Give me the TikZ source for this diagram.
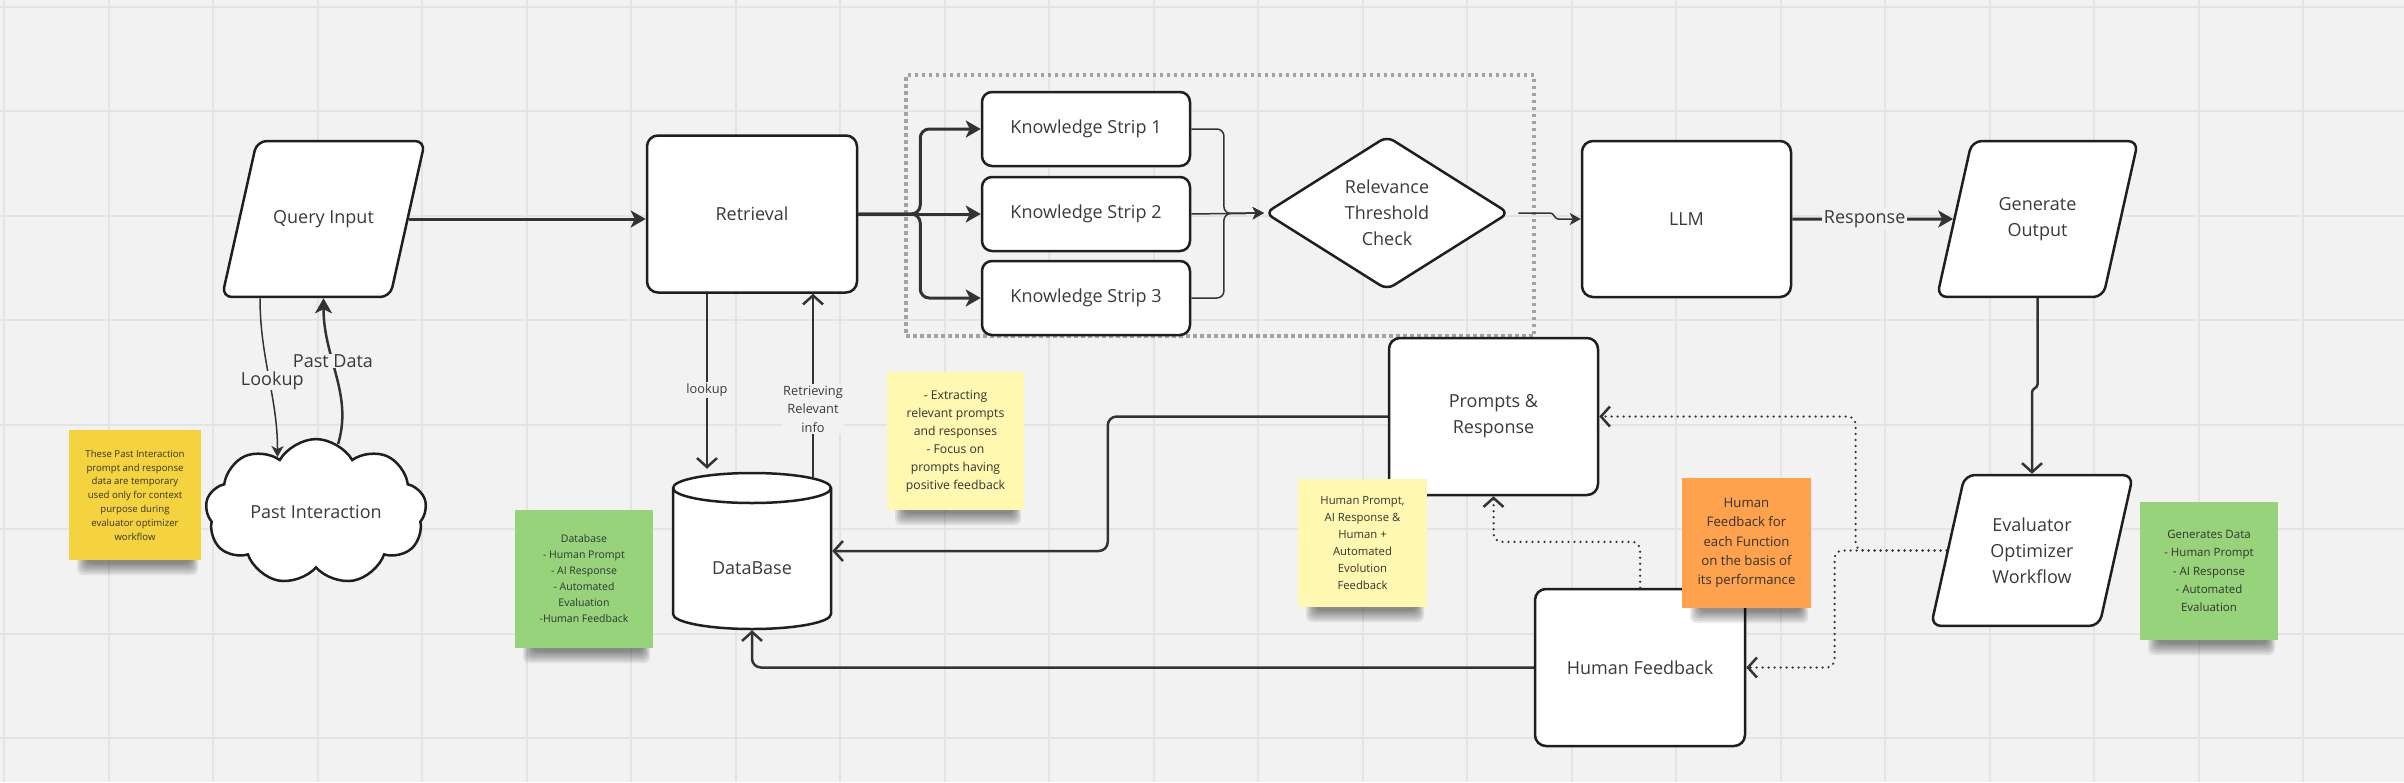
\documentclass[tikz,border=0pt]{standalone}
\usepackage{fontspec}
\setmainfont{Open Sans}
\usetikzlibrary{shapes.geometric,shapes.symbols,arrows.meta,calc}
\definecolor{bg}{HTML}{F2F2F2}
\definecolor{gridc}{HTML}{E4E4E4}
\definecolor{ink}{HTML}{1F1F1F}
\definecolor{lnk}{HTML}{333333}
\definecolor{txt}{HTML}{3A3A3A}
\definecolor{dotbox}{HTML}{A2A2A2}
\definecolor{stY}{HTML}{F5D33F}
\definecolor{stL}{HTML}{FFF8B0}
\definecolor{stG}{HTML}{97D37A}
\definecolor{stO}{HTML}{FFA24E}
\newcommand{\stickyshadow}[3]{%
  \foreach \k in {0,...,5} \fill[black, opacity=0.085, rounded corners=6pt] ({#1+8+\k*1.8},{#3-10}) rectangle ({#2-3-\k*1.4},{#3+15-\k*2.2});%
}
\tikzset{
  base/.style={draw=ink, line width=2.5pt, fill=white, text=txt, align=center, inner sep=0pt, font=\fontsize{18}{26}\selectfont},
  rbox/.style={base, rectangle, rounded corners=11pt, minimum width=210pt, minimum height=157pt},
  strip/.style={base, rectangle, rounded corners=10pt, minimum width=208pt, minimum height=74pt},
  para/.style={base, trapezium, trapezium left angle=77.4, trapezium right angle=102.6, trapezium stretches body=true, rounded corners=10pt, minimum width=203pt, minimum height=0pt, inner xsep=0pt},
  decision/.style={base, diamond, aspect=1.58, minimum width=244pt, minimum height=154pt, rounded corners=8pt},
  cloudy/.style={base, cloud, cloud puffs=9, cloud puff arc=120, aspect=1.6, minimum width=221pt, minimum height=139pt},
  sticky/.style={rectangle, inner sep=0pt, align=center, text=black!80},
  groupbox/.style={draw=dotbox, line width=3.5pt, dash pattern=on 3.5pt off 3.5pt, rectangle, inner sep=0pt},
  lbl/.style={fill=bg, inner sep=0.5pt, text=txt, font=\fontsize{18}{22}\selectfont},
  slbl/.style={fill=bg, inner sep=1.5pt, text=txt, align=center, font=\fontsize{12.8}{18.6}\selectfont},
  wide/.style={draw=lnk, line width=3pt},
  med/.style={draw=lnk, line width=2.5pt},
  fine/.style={draw=lnk, line width=1.5pt},
  dotc/.style={draw=lnk, line width=2.5pt, line cap=round, dash pattern=on 0pt off 6pt},
  tipF/.style={-{Stealth[length=15pt, width=17pt, inset=4pt]}},
  tipS/.style={-{Stealth[length=11pt, width=12pt, inset=3pt]}},
  tipO/.style={-{Straight Barb[length=9pt, width=20pt]}},
}
\begin{document}
\begin{tikzpicture}[x=1pt, y=-1pt]
\useasboundingbox (0,0) rectangle (2404,782);
\fill[bg] (0,0) rectangle (2404,782);
\foreach \i in {0,...,22} \draw[gridc, line width=2pt] ({4+104.5*\i},0) -- ({4+104.5*\i},782);
\foreach \j in {0,...,7} \draw[gridc, line width=2pt] (0,{6.5+104.5*\j}) -- (2404,{6.5+104.5*\j});

% group frame
\node[groupbox, minimum width=628pt, minimum height=261pt] (grp) at (1220,205.5) {};

% main nodes
\node[para, inner ysep=69.3pt] (q) at (323.5,219) {Query Input};
\node[cloudy] (pi) at (316,512) {Past Interaction};
\node[rbox] (r) at (752,214) {Retrieval};
\node[strip] (k1) at (1086,129) {Knowledge Strip 1};
\node[strip] (k2) at (1086,214) {Knowledge Strip 2};
\node[strip] (k3) at (1086,298) {Knowledge Strip 3};
\node[decision] (d) at (1387,213) {Relevance\\Threshold\\Check};
\node[rbox, minimum width=209pt, minimum height=156pt] (llm) at (1686.5,219) {LLM};
\node[para, minimum width=201pt, inner ysep=56.3pt] (go) at (2037.5,219) {Generate\\Output};
\node[para, minimum width=202pt, inner ysep=42.5pt] (ev) at (2032,550.5) {Evaluator\\Optimizer\\Workflow};
\node[rbox, minimum width=209pt] (pr) at (1493.5,416.5) {Prompts \&\\Response};
\node[rbox] (hf) at (1640,667.5) {Human Feedback};

% database cylinder
\filldraw[draw=ink, fill=white, line width=2.5pt] (673,488) -- (673,614) arc[start angle=180, end angle=0, x radius=79, y radius=15] -- (831,488) arc[start angle=0, end angle=-180, x radius=79, y radius=15] -- cycle;
\draw[ink, line width=2.5pt] (673,488) arc[start angle=180, end angle=0, x radius=79, y radius=15];
\node[base, draw=none, fill=none, minimum width=158pt, minimum height=156pt, text height=60pt, text depth=13pt] (db) at (752,551) {DataBase};

% connectors
\draw[wide, tipF] (q.east) -- (q.east -| r.west);
\draw[wide, tipF] (r.east) -- (k2.west);
\draw[wide, tipF, rounded corners=9pt] (r.east) -- ++(62,0) |- (k1.west);
\draw[wide, tipF, rounded corners=9pt] (r.east) -- ++(62,0) |- (k3.west);

\coordinate (mrg) at ($(k2.east)!0.45!(d.west)$);
\draw[fine, tipS] (k2.east) -- (d.west);
\draw[fine, tipS, rounded corners=7pt] (k1.east) -| (mrg) -- (d.west);
\draw[fine, tipS, rounded corners=7pt] (k3.east) -| (mrg) -- (d.west);

\draw[fine, tipS, shorten <=8pt] (d.east) -- ++(40,0) .. controls +(4,0) and +(-4,0) .. ++(8,6) -- (llm.west);

\draw[wide, tipF] (llm.east) -- (go.west) node[lbl, inner sep=2pt, pos=0.45] {Response};

\draw[med, tipO] (go.south) -- ++(0,86) .. controls +(0,4) and +(0,-4) .. ++(-5.5,8) -- (ev.north);

\draw[med, tipF] (pi.72) .. controls +(15,-50) and +(0,60) .. (q.south) node[lbl, pos=0.6] {Past Data};
\draw[fine, tipS] ([xshift=-63.5pt]q.south) .. controls +(0,60) and +(0,-60) .. (pi.125) node[lbl, pos=0.52, xshift=3pt] {Lookup};

\draw[med, tipO, shorten >=3pt] ([xshift=-45pt]r.south) -- ([xshift=-45pt]r.south |- db.north) node[slbl, pos=0.54] {lookup};
\draw[med, tipO] ([xshift=61pt,yshift=-5pt]db.north) -- ([xshift=61pt]r.south) node[slbl, pos=0.37] {Retrieving\\Relevant\\info};

\draw[med, tipO, rounded corners=9pt] (pr.west) -- ++(-280,0) |- (db.east);
\draw[med, tipO, rounded corners=9pt] (hf.west) -| (db.south);

\draw[dotc, tipO, rounded corners=8pt] (ev.west) -- ++(-91,0) |- (pr.east);
\draw[dotc, tipO, rounded corners=8pt] (ev.west) -- ++(-112,0) |- (hf.east);
\draw[dotc, tipO, rounded corners=8pt] (hf.north) -- ++(0,-46) -| (pr.south);

% sticky notes with shadows
\stickyshadow{69}{201}{560}
\node[sticky, fill=stY, minimum width=132pt, minimum height=130pt, font=\fontsize{9.6}{13.8}\selectfont] (s1) at (135,495) {These Past Interaction\\prompt and response\\data are temporary\\used only for context\\purpose during\\evaluator optimizer\\workflow};
\stickyshadow{515}{653}{648}
\node[sticky, fill=stG, minimum width=138pt, minimum height=138pt, font=\fontsize{10.5}{16}\selectfont] (s2) at (584,579) {Database\\- Human Prompt\\- AI Response\\- Automated\\Evaluation\\-Human Feedback};
\stickyshadow{887}{1024}{510}
\node[sticky, fill=stL, minimum width=137pt, minimum height=138pt, font=\fontsize{12.2}{18}\selectfont] (s3) at (955.5,441) {- Extracting\\relevant prompts\\and responses\\- Focus on\\prompts having\\positive feedback};
\stickyshadow{1298}{1427}{607}
\node[sticky, fill=stL, minimum width=129pt, minimum height=128pt, font=\fontsize{11.3}{17}\selectfont] (s4) at (1362.5,543) {Human Prompt,\\AI Response \&\\Human +\\Automated\\Evolution\\Feedback};
\stickyshadow{1682}{1811}{608}
\node[sticky, fill=stO, minimum width=129pt, minimum height=130pt, font=\fontsize{13.2}{19.3}\selectfont] (s5) at (1746.5,543) {Human\\Feedback for\\each Function\\on the basis of\\its performance};
\stickyshadow{2140}{2278}{640}
\node[sticky, fill=stG, minimum width=138pt, minimum height=138pt, font=\fontsize{11.5}{18.3}\selectfont] (s6) at (2209,571) {Generates Data\\- Human Prompt\\- AI Response\\- Automated\\Evaluation};
\end{tikzpicture}
\end{document}
